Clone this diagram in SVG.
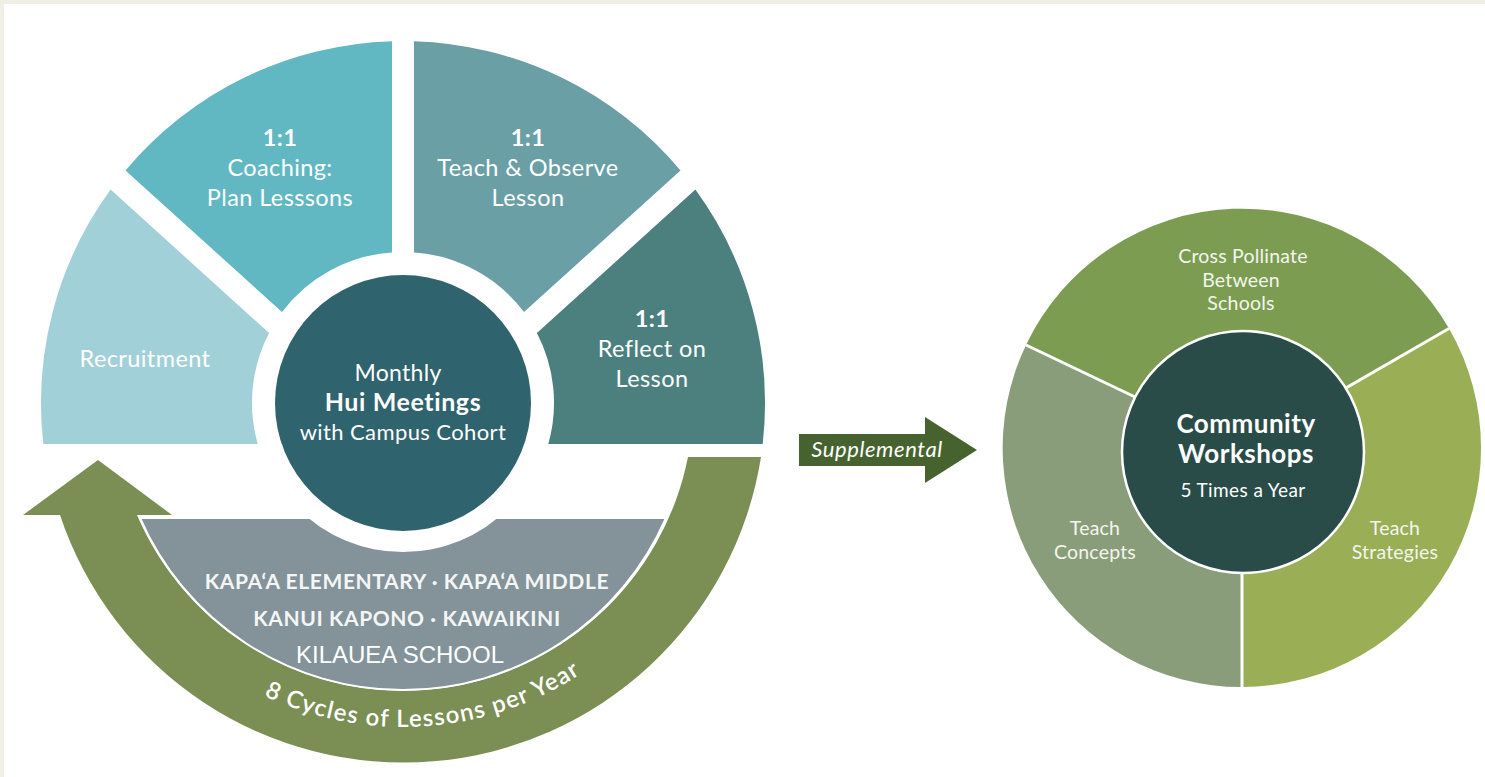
<svg xmlns="http://www.w3.org/2000/svg" width="1485" height="777" viewBox="0 0 1485 777">
<style>
.t{font-family:Lato,"Open Sans","Liberation Sans",sans-serif;fill:#ffffff;text-anchor:middle}
.lbl{font-size:23.5px;letter-spacing:0.4px}
.b{font-weight:bold}
.sc{font-size:21px;font-weight:bold;fill:#f4f6f6;letter-spacing:0.6px}
.rl{font-size:19.5px;fill:#f3f5ee;letter-spacing:0.2px}
</style>
<defs>
<path id="cyclePath" d="M 122.4,565 A 324 324 0 0 0 703.4,524.4"/>
</defs>
<rect x="0" y="0" width="1485" height="777" fill="#ffffff"/>
<rect x="0" y="0" width="1485" height="4" fill="#f0efe6"/>
<rect x="0" y="0" width="4" height="777" fill="#f0efe6"/>

<g id="connectors">
  <path id="cycle-arrow" d="M 688,457 L 761,457 A 362 362 0 0 1 60,515 L 23,515 L 98,460 L 172,515 L 137,515 A 290 290 0 0 0 688,457 Z" fill="#7b8e54"/>
  <text class="t" font-size="24" font-weight="600" fill="#f6f7f1" letter-spacing="1.3"><textPath href="#cyclePath" startOffset="50%">8 Cycles of Lessons per Year</textPath></text>
  <g id="supplemental-arrow">
    <path d="M 799,434 L 925,434 L 925,417 L 977,450 L 925,483 L 925,466 L 799,466 Z" fill="#46632f"/>
    <text x="877" y="457" class="t" font-size="22" font-style="italic" fill="#e6ece0" letter-spacing="0.6">Supplemental</text>
  </g>
</g>

<g id="schools">
  <path d="M 140,518 L 666,518 A 287 287 0 0 1 140,518 Z" fill="#84939a" stroke="#ffffff" stroke-width="2"/>
  <circle cx="403" cy="403" r="149" fill="#ffffff"/>
  <text x="407" y="589" class="t sc">KAPA‘A ELEMENTARY  ·  KAPA‘A MIDDLE</text>
  <text x="407" y="626" class="t sc">KANUI KAPONO  ·  KAWAIKINI</text>
  <text x="400" y="663" font-family="'Liberation Sans',Arial,sans-serif" font-size="24" fill="#ffffff" text-anchor="middle">KILAUEA SCHOOL</text>
</g>

<g id="recruitment">
  <path d="M 43.3,444 A 362 362 0 0 1 110.6,189.6 L 269.1,333 A 151 151 0 0 0 257.7,444 Z" fill="#a2d0d8"/>
  <text x="145" y="367" class="t lbl">Recruitment</text>
</g>
<g id="coaching">
  <path d="M 125.5,170.5 A 362 362 0 0 1 392,41.2 L 392,252.4 A 151 151 0 0 0 282,312 Z" fill="#61b8c3"/>
  <text x="280" y="146" class="t lbl b">1:1</text>
  <text x="280" y="176" class="t lbl">Coaching:</text>
  <text x="280" y="206" class="t lbl">Plan Lesssons</text>
</g>
<g id="teach-observe">
  <path d="M 414,41.2 A 362 362 0 0 1 680.5,170.5 L 524,312 A 151 151 0 0 0 414,252.4 Z" fill="#6a9fa5"/>
  <text x="528" y="146" class="t lbl b">1:1</text>
  <text x="528" y="176" class="t lbl">Teach &amp; Observe</text>
  <text x="528" y="206" class="t lbl">Lesson</text>
</g>
<g id="reflect">
  <path d="M 695.4,189.6 A 362 362 0 0 1 762.7,444 L 548.3,444 A 151 151 0 0 0 536.9,333 Z" fill="#4c807f"/>
  <text x="652" y="327" class="t lbl b">1:1</text>
  <text x="652" y="357" class="t lbl">Reflect on</text>
  <text x="652" y="387" class="t lbl">Lesson</text>
</g>
<g id="hui-meetings">
  <circle cx="403" cy="403" r="128" fill="#2f636e"/>
  <text x="398" y="381" class="t" font-size="23" fill="#d3e1e3" letter-spacing="0.3">Monthly</text>
  <text x="403" y="411" class="t b" font-size="25" letter-spacing="0.6">Hui Meetings</text>
  <text x="403" y="440" class="t" font-size="22" fill="#e8f0f0" letter-spacing="0.4">with Campus Cohort</text>
</g>

<g id="cross-pollinate">
  <path d="M 1242,448 L 1026,345 A 239 239 0 0 1 1449,328.5 Z" fill="#7c9d51"/>
  <text x="1243" y="263" class="t rl">Cross Pollinate</text>
  <text x="1241" y="287" class="t rl">Between</text>
  <text x="1241" y="310" class="t rl">Schools</text>
</g>
<g id="teach-strategies">
  <path d="M 1242,448 L 1449,328.5 A 239 239 0 0 1 1242,687 Z" fill="#9aae55"/>
  <text x="1395" y="535" class="t rl">Teach</text>
  <text x="1395" y="559" class="t rl">Strategies</text>
</g>
<g id="teach-concepts">
  <path d="M 1242,448 L 1242,687 A 239 239 0 0 1 1026,345 Z" fill="#8a9d7a"/>
  <text x="1095" y="535" class="t rl">Teach</text>
  <text x="1095" y="559" class="t rl">Concepts</text>
</g>
<g id="dividers" stroke="#ffffff" stroke-width="3">
  <line x1="1242" y1="448" x2="1026" y2="345"/>
  <line x1="1242" y1="448" x2="1449" y2="328.5"/>
  <line x1="1242" y1="448" x2="1242" y2="688"/>
</g>
<g id="community-workshops">
  <circle cx="1243" cy="452" r="121" fill="#2a4c48" stroke="#ffffff" stroke-width="2.5"/>
  <text x="1246" y="433" class="t b" font-size="26" letter-spacing="0.5">Community</text>
  <text x="1246" y="463" class="t b" font-size="26" letter-spacing="0.5">Workshops</text>
  <text x="1243" y="497" class="t" font-size="19" fill="#e3ebe8" letter-spacing="0.4">5 Times a Year</text>
</g>
</svg>
